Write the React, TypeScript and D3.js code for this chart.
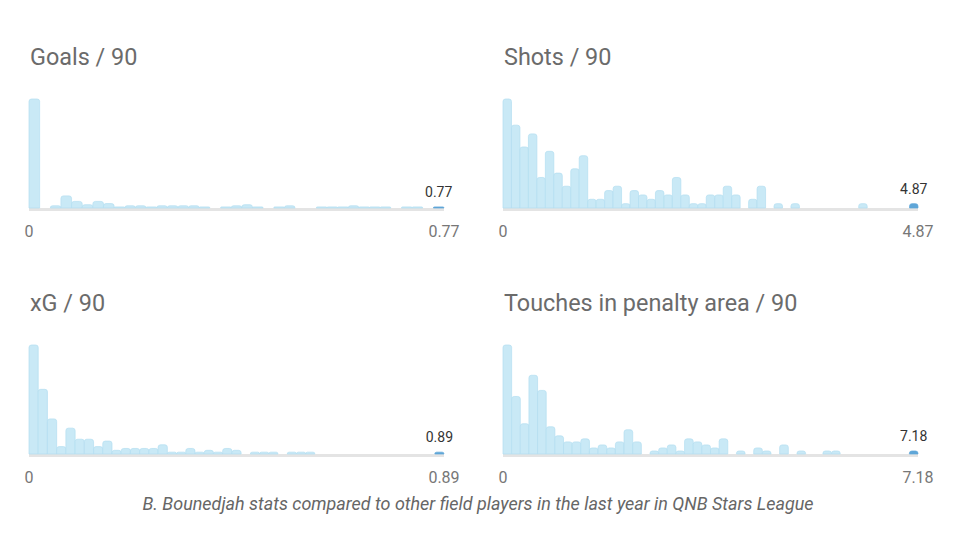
import React from 'react';
import * as d3 from 'd3';

// histogram counts per bin, last bin holds the player
const goalsBins = [99, 0, 2, 11, 6, 3, 6, 4, 1, 2, 2, 1, 2, 2, 2, 2, 1, 0, 1, 2, 3, 1, 0, 1, 2, 0, 0, 1, 1, 1, 2, 1, 1, 1, 0, 1, 1, 0, 1];
const shotsBins = [25, 19, 14, 17, 7, 13, 8, 5, 9, 12, 2, 2, 4, 5, 1, 4, 3, 2, 4, 3, 7, 3, 1, 1, 3, 3, 5, 3, 0, 2, 5, 0, 1, 0, 1, 0, 0, 0, 0, 0, 0, 0, 1, 0, 0, 0, 0, 0, 1];
const xgBins = [59, 35, 19, 4, 14, 8, 8, 4, 7, 2, 3, 3, 3, 3, 5, 1, 1, 3, 1, 2, 1, 3, 2, 0, 1, 1, 1, 0, 1, 1, 1, 0, 0, 0, 0, 0, 0, 0, 0, 0, 0, 0, 0, 0, 1];
const touchesBins = [36, 19, 10, 26, 21, 9, 6, 4, 4, 5, 2, 3, 2, 4, 8, 4, 0, 1, 2, 3, 1, 5, 4, 3, 2, 5, 0, 1, 0, 2, 1, 0, 3, 0, 1, 0, 0, 1, 1, 0, 0, 0, 0, 0, 0, 0, 0, 1];

const panelTitles = ['Goals / 90', 'Shots / 90', 'xG / 90', 'Touches in penalty area / 90'];
const playerValues = [0.77, 4.87, 0.89, 7.18];
const playerLabels = ['0.77', '4.87', '0.89', '7.18'];
const caption = 'B. Bounedjah stats compared to other field players in the last year in QNB Stars League';

const allBins = [goalsBins, shotsBins, xgBins, touchesBins];

const WIDTH = 962;
const HEIGHT = 540;
const plotWidth = 415;
const barMax = 109;
const panelX = [29, 503, 29, 503];
const panelBottom = [208, 208, 454, 454];

const fontFamily = 'Roboto, "Noto Sans", sans-serif';

// rect with rounded top corners only
function barPath(x: number, y: number, w: number, h: number, r: number) {
  const rr = Math.min(r, h, w / 2);
  return `M${x},${y + h}V${y + rr}Q${x},${y} ${x + rr},${y}H${x + w - rr}Q${x + w},${y} ${x + w},${y + rr}V${y + h}Z`;
}

function Panel({ idx }: { idx: number }) {
  const bins = allBins[idx];
  const x0 = panelX[idx];
  const bottom = panelBottom[idx];
  const maxVal = playerValues[idx];

  const xBand = d3.scaleBand<number>()
    .domain(d3.range(bins.length))
    .range([x0, x0 + plotWidth])
    .padding(0);

  const xVal = d3.scaleLinear().domain([0, maxVal]).range([x0, x0 + plotWidth]);

  const y = d3.scaleLinear()
    .domain([0, d3.max(bins) as number])
    .range([bottom, bottom - barMax]);

  const playerBin = bins.length - 1; // player is the max of each distribution
  const bw = xBand.bandwidth();
  const playerTop = y(bins[playerBin]);

  return (
    <g>
      <text x={x0 + 1} y={bottom - 143} fontSize={23.4} fill="#6b6b6b" fontFamily={fontFamily}>
        {panelTitles[idx]}
      </text>
      <rect x={x0} y={bottom} width={plotWidth} height={3} fill="#e4e4e4" />
      {bins.map((c, i) => {
        if (c === 0) return null;
        const isPlayer = i === playerBin;
        const top = y(c);
        return (
          <path
            key={i}
            d={barPath(xBand(i) as number, top, bw, bottom - top, 2.5)}
            fill={isPlayer ? '#5fa6d8' : '#c9e9f6'}
            stroke={isPlayer ? '#5fa6d8' : '#b3def0'}
            strokeWidth={0.7}
          />
        );
      })}
      <text
        x={(xBand(playerBin) as number) + bw / 2}
        y={playerTop - 10}
        textAnchor="middle"
        fontSize={14}
        fill="#333"
        fontFamily={fontFamily}
      >
        {playerLabels[idx]}
      </text>
      {[0, maxVal].map((v, i) => (
        <text
          key={i}
          x={xVal(v)}
          y={bottom + 29}
          textAnchor="middle"
          fontSize={16}
          fill="#777"
          fontFamily={fontFamily}
        >
          {v === 0 ? '0' : playerLabels[idx]}
        </text>
      ))}
    </g>
  );
}

export default function App() {
  return (
    <div style={{ position: 'absolute', left: 0, top: 0 }}>
      <svg width={WIDTH} height={HEIGHT} style={{ display: 'block', background: '#fff' }}>
        {allBins.map((_, i) => (
          <Panel key={i} idx={i} />
        ))}
        <text
          x={478}
          y={510}
          textAnchor="middle"
          fontSize={17.5}
          fontStyle="italic"
          fill="#666"
          fontFamily={fontFamily}
          textLength={671}
          lengthAdjust="spacingAndGlyphs"
        >
          {caption}
        </text>
      </svg>
    </div>
  );
}
